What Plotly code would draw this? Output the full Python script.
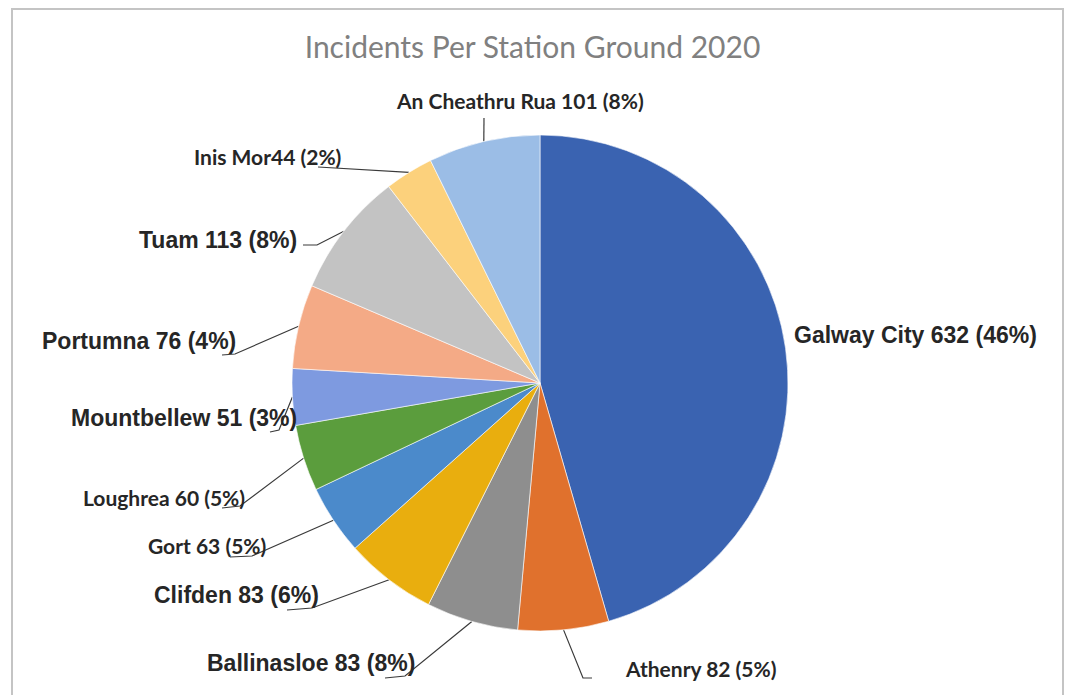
"""Pie chart of incidents per station ground in 2020
"""

import numpy as np
import plotly.graph_objects as go

# stations in clockwise order starting at 12 o'clock
stations = ['Galway City', 'Athenry', 'Ballinasloe', 'Clifden', 'Gort', 'Loughrea',
            'Mountbellew', 'Portumna', 'Tuam', 'Inis Mor', 'An Cheathru Rua']
incidents = [632, 82, 83, 83, 63, 60, 51, 76, 113, 44, 101]

# label text exactly as printed on the original chart
label_text = ['Galway City 632 (46%)', 'Athenry 82 (5%)', 'Ballinasloe 83 (8%)',
              'Clifden 83 (6%)', 'Gort 63 (5%)', 'Loughrea 60 (5%)',
              'Mountbellew 51 (3%)', 'Portumna 76 (4%)', 'Tuam 113 (8%)',
              'Inis Mor44 (2%)', 'An Cheathru Rua 101 (8%)']

colors = ['#3a63b1', '#e0712d', '#8e8e8e', '#e9ae0e', '#4b8acb', '#5b9d3d',
          '#7e9ae0', '#f4aa86', '#c3c3c3', '#fcd17c', '#9bbde6']

W, H = 1065, 695
CX, CY, R = 540, 383, 248

# where each label sits (pixel centre) and the bends of its leader line
label_pos = [(915, 335), (701, 668), (311, 663), (236, 595), (207, 545), (164, 497),
             (184, 418), (139, 341), (218, 240), (267, 156), (520, 100)]
label_big = [True, False, True, True, False, False, True, True, True, False, False]
leader_bends = [[], [(583, 678), (592, 678)], [(405, 676), (385, 678)],
                [(312, 608), (287, 610)], [(252, 556), (230, 557)],
                [(240, 506), (222, 508)], [(279, 430), (270, 432)],
                [(235, 354), (222, 355)], [(317, 245), (303, 245)],
                [(318, 167)], [(484, 118)]]

# middle of each slice on the rim, from the cumulative values
vals = np.array(incidents, dtype=float)
ends = np.cumsum(vals) / vals.sum() * 2 * np.pi
mids = ends - vals / vals.sum() * np.pi
rim_x = CX + R * np.sin(mids)
rim_y = CY - R * np.cos(mids)

fig = go.Figure()

fig.add_trace(go.Pie(
    labels=stations,
    values=incidents,
    sort=False,
    direction='clockwise',
    rotation=0,
    marker=dict(colors=colors, line=dict(color='white', width=0.6)),
    textinfo='none',
    hoverinfo='label+value+percent',
    showlegend=False,
    domain=dict(x=[(CX - R) / W, (CX + R) / W], y=[(H - CY - R) / H, (H - CY + R) / H]),
))

# leader lines from the slice rim to the label
line_x, line_y = [], []
for i, bends in enumerate(leader_bends):
    if not bends:
        continue
    line_x += [rim_x[i]] + [b[0] for b in bends] + [None]
    line_y += [rim_y[i]] + [b[1] for b in bends] + [None]

fig.add_trace(go.Scatter(
    x=line_x, y=line_y, mode='lines',
    line=dict(color='#3a3a3a', width=1.2),
    hoverinfo='skip', showlegend=False,
))

for i, txt in enumerate(label_text):
    if label_big[i]:
        font = dict(family='Liberation Sans, Arial', size=23, color='#262626', weight='bold')
    else:
        font = dict(family='Lato', size=21, color='#262626', weight='bold')
    fig.add_annotation(
        x=label_pos[i][0], y=label_pos[i][1], xref='x', yref='y',
        text=txt, showarrow=False, xanchor='center', yanchor='middle', font=font,
    )

# chart frame
fig.add_shape(type='rect', xref='x', yref='y', x0=12, y0=9, x1=1063, y1=700,
              line=dict(color='#c4c4c4', width=2), fillcolor='rgba(0,0,0,0)')

fig.update_layout(
    width=W, height=H,
    margin=dict(l=0, r=0, t=0, b=0),
    paper_bgcolor='white',
    plot_bgcolor='rgba(0,0,0,0)',
    title=dict(text='Incidents Per Station Ground 2020', x=0.5, xanchor='center',
               y=1 - 47 / H, yanchor='middle',
               font=dict(family='Lato', size=30, color='#808080')),
    xaxis=dict(range=[0, W], visible=False, fixedrange=True),
    yaxis=dict(range=[H, 0], visible=False, fixedrange=True),
)

# drop the default page margin so the figure sits at the window's corner
fig.write_html("out.html", config={'displayModeBar': False},
               post_script="document.body.style.margin='0';")
